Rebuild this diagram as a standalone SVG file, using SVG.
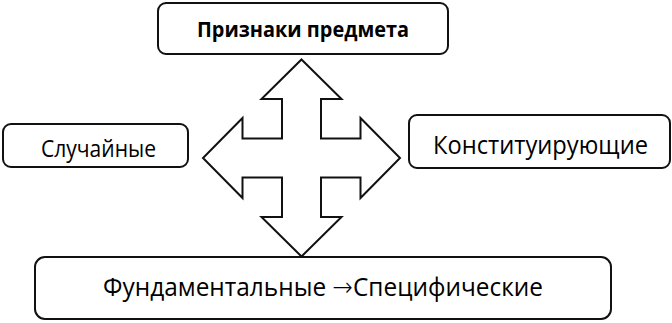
<svg xmlns="http://www.w3.org/2000/svg" width="672" height="323" viewBox="0 0 672 323">
<style>
.box{fill:#fff;stroke:#111;stroke-width:2}
.t{font-family:"Open Sans","Liberation Sans",sans-serif;fill:#000}
.b{font-weight:bold;font-size:22px}
.s{font-size:23px}
.l{font-size:26px}
.arr{font-family:"DejaVu Sans",sans-serif;font-size:26px;font-weight:200}
.cross{fill:#fff;stroke:#111;stroke-width:2;stroke-linejoin:miter}
</style>
<rect width="672" height="323" fill="#fff"/>
<g id="connectors">
<path class="cross" d="M301.5,59.5 L341.5,99 L321,99 L321,138.5 L360.5,138.5 L360.5,118 L400,158 L360.5,198 L360.5,177.5 L321,177.5 L321,217 L341.5,217 L301.5,256.5 L261.5,217 L282,217 L282,177.5 L242.5,177.5 L242.5,198 L203,158 L242.5,118 L242.5,138.5 L282,138.5 L282,99 L261.5,99 Z"/>
</g>
<g id="node-top">
<rect class="box" x="158" y="3" width="290" height="51" rx="8"/>
<text class="t b" x="197" y="36.5" textLength="212" lengthAdjust="spacingAndGlyphs">Признаки предмета</text>
</g>
<g id="node-left">
<rect class="box" x="3" y="124" width="185" height="43" rx="8"/>
<text class="t s" x="41" y="157" textLength="115" lengthAdjust="spacingAndGlyphs">Случайные</text>
</g>
<g id="node-right">
<rect class="box" x="409" y="115" width="261" height="53" rx="8"/>
<text class="t l" x="433" y="153.5" textLength="215" lengthAdjust="spacingAndGlyphs">Конституирующие</text>
</g>
<g id="node-bottom">
<rect class="box" x="35" y="257" width="576" height="62" rx="10"/>
<text class="t l" x="103" y="296" textLength="440" lengthAdjust="spacingAndGlyphs">Фундаментальные <tspan class="arr">→</tspan>Специфические</text>
</g>
</svg>
